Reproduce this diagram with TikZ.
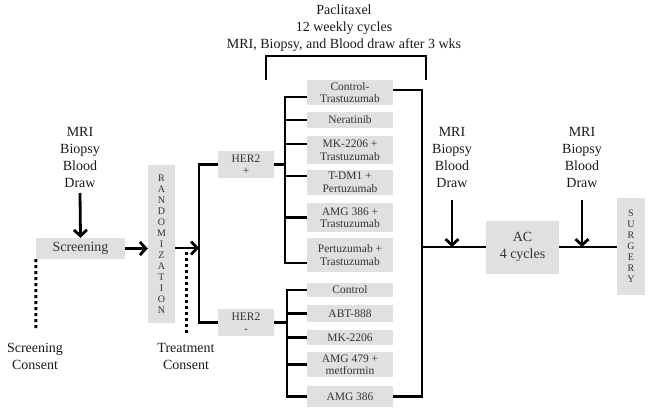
\documentclass[tikz,border=0pt]{standalone}
\usepackage{fontspec}
\setmainfont{Liberation Serif}
\newfontfamily\tms{Liberation Serif}
\usetikzlibrary{arrows.meta}
\begin{document}
\begin{tikzpicture}[x=1pt,y=-1pt,
  box/.style={fill=black!12, draw=none, inner sep=0pt, align=center, text=black!80},
  big/.style={font=\tms\fontsize{14}{17}\selectfont, align=center, inner sep=0pt, text=black!90},
  bigbox/.style={box, font=\tms\fontsize{14}{17}\selectfont},
  small/.style={box, font=\tms\fontsize{11.5}{12.5}\selectfont, minimum width=86pt},
  vert/.style={box, font=\tms\fontsize{10}{11}\selectfont},
  ln/.style={line width=2.8pt},
  arr/.style={ln, -{Straight Barb[length=6pt,width=13pt]}},
  dotln/.style={line width=3pt, dash pattern=on 3pt off 3pt}]
\useasboundingbox (0,0) rectangle (652,414);

% texts
\node[big] (top) at (344,28.5) {Paclitaxel\\12 weekly cycles\\MRI, Biopsy, and Blood draw after 3 wks};
\node[big] (mri1) at (80,157) {MRI\\Biopsy\\Blood\\Draw};
\node[big] (mri2) at (452,157) {MRI\\Biopsy\\Blood\\Draw};
\node[big] (mri3) at (582,157) {MRI\\Biopsy\\Blood\\Draw};
\node[big] (sc) at (35,356) {Screening\\Consent};
\node[big] (tc) at (186,356) {Treatment\\Consent};

% boxes
\node[bigbox, minimum width=89pt, minimum height=21pt] (scr) at (80.5,248.5) {Screening};
\node[vert, minimum width=27pt, minimum height=158pt] (rand) at (161.5,244) {R\\A\\N\\D\\O\\M\\I\\Z\\A\\T\\I\\O\\N};
\node[small, minimum width=56pt, minimum height=27pt] (herp) at (246,164.5) {HER2\\+};
\node[small, minimum width=56pt, minimum height=27pt] (hern) at (246,322.5) {HER2\\-};

\node[small, minimum height=25pt] (t1) at (350,92.5) {Control-\\Trastuzumab};
\node[small, minimum height=16pt] (t2) at (350,120) {Neratinib};
\node[small, minimum height=28pt] (t3) at (350,150) {MK-2206 +\\Trastuzumab};
\node[small, minimum height=25pt] (t4) at (350,182.5) {T-DM1 +\\Pertuzumab};
\node[small, minimum height=29pt] (t5) at (350,217.5) {AMG 386 +\\Trastuzumab};
\node[small, minimum height=34pt] (t6) at (350,255) {Pertuzumab +\\Trastuzumab};

\node[small, minimum height=14pt] (b1) at (350,290) {Control};
\node[small, minimum height=17pt] (b2) at (350,313.5) {ABT-888};
\node[small, minimum height=15pt] (b3) at (350,337.5) {MK-2206};
\node[small, minimum height=25pt] (b4) at (350,364.5) {AMG 479 +\\metformin};
\node[small, minimum height=21pt] (b5) at (350,396.5) {AMG 386};

\node[bigbox, minimum width=73pt, minimum height=53pt] (ac) at (522.5,247) {AC\\4 cycles};
\node[vert, minimum width=28pt, minimum height=97pt] (surg) at (631,246.5) {S\\U\\R\\G\\E\\R\\Y};

% coordinates
\coordinate (a1) at (80,193);
\coordinate (sp) at (199,248);
\coordinate (tp) at (285,180);
\coordinate (tn) at (287,340);
\coordinate (rt) at (422,247);
\coordinate (a2) at (452,200);
\coordinate (a3) at (582,200);
\coordinate (bl) at (266,80);
\coordinate (br) at (426,80);
\coordinate (d1) at (36,331);
\coordinate (d2a) at (186,252);
\coordinate (d2b) at (186,333);

% connectors
\draw[arr] (a1) -- (scr.north);
\draw[arr] (scr.east) -- (scr.east -| rand.west);
\draw[arr] (rand.east |- sp) -- (sp);
\draw[ln] (herp.west) -| (sp) |- (hern.west);

\draw[ln] ([yshift=-4.5pt]t1.west) -| (tp) |- ([yshift=-8pt]t6.west);
\draw[ln] (t2.west -| tp) -- (t2.west);
\draw[ln] ([yshift=6pt]t3.west -| tp) -- ([yshift=6pt]t3.west);
\draw[ln] ([yshift=6.5pt]t4.west -| tp) -- ([yshift=6.5pt]t4.west);
\draw[ln] (t5.west -| tp) -- (t5.west);
\draw[ln] (herp.east) -- (herp.east -| tp);

\draw[ln] (b1.west) -| (tn) |- (b5.west);
\draw[ln] (b2.west -| tn) -- (b2.west);
\draw[ln] (b3.west -| tn) -- (b3.west);
\draw[ln] (b4.west -| tn) -- (b4.west);
\draw[ln] (hern.east) -- (hern.east -| tn);

\draw[ln] ([yshift=2.5pt]t1.east) -| (rt) |- (b5.east);
\draw[ln] (rt) -- (ac.west);
\draw[ln] (ac.east) -- (surg.west |- ac.east);
\draw[arr] (a2) -- (a2 |- rt);
\draw[arr] (a3) -- (a3 |- ac.east);

\draw[ln] (bl) -- ++(0,-24) -| (br);

\draw[dotln] (scr.south west) -- (d1);
\draw[dotln] (d2a) -- (d2b);
\end{tikzpicture}
\end{document}
